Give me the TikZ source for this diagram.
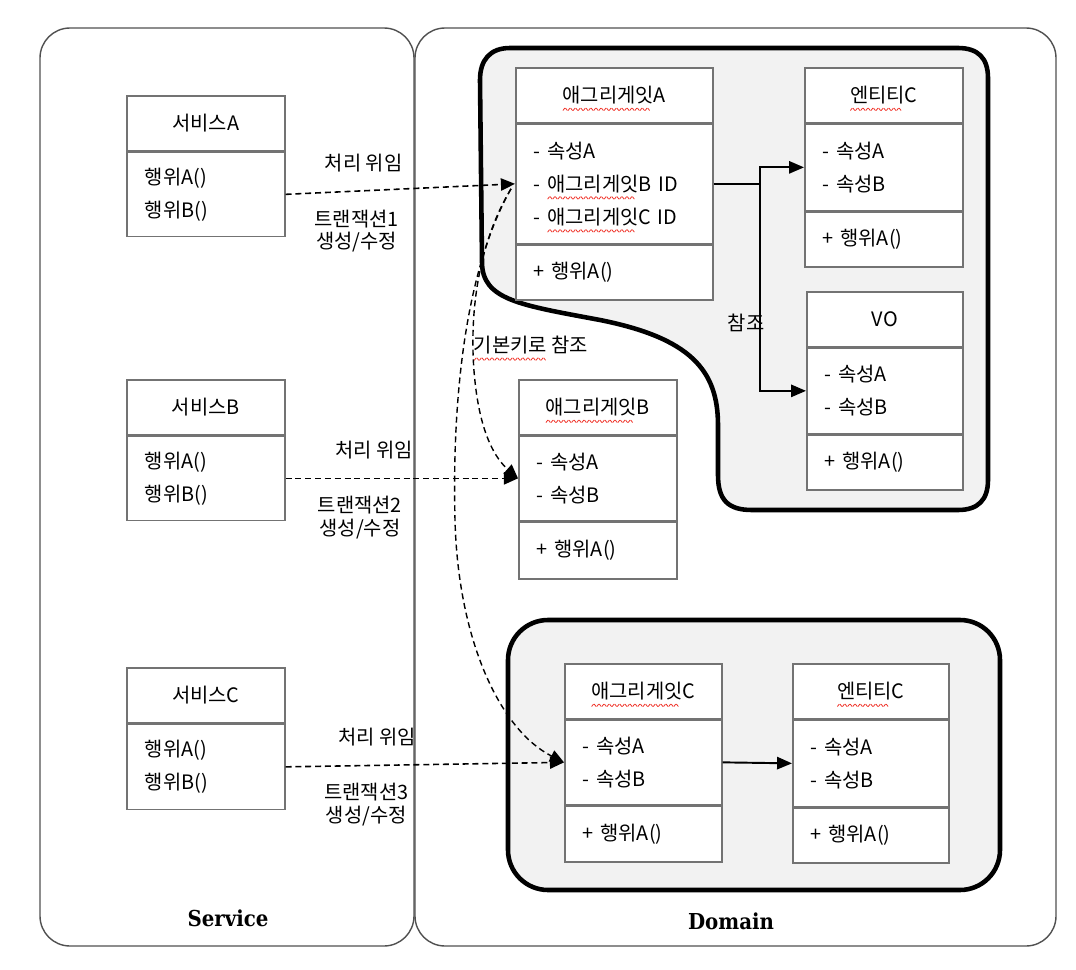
\documentclass[tikz,border=0pt]{standalone}
\usepackage{fontspec}
\usepackage{xcolor}
\usepackage{graphicx}
\usepackage{tikz}
\usetikzlibrary{arrows.meta,calc}
\setmainfont{Noto Sans CJK KR}
\newfontfamily\layerfont{DejaVu Serif Condensed}
\definecolor{boxgray}{RGB}{115,115,115}
\definecolor{panelgray}{RGB}{80,80,80}
\definecolor{groupfill}{RGB}{242,242,242}
\definecolor{spellred}{RGB}{240,50,40}
% red spell-check wave under a word
\newsavebox\zigbox
\sbox\zigbox{{\color{spellred}\rotatebox{52}{\rule{1.8pt}{0.45pt}}\raisebox{1.42pt}{\rotatebox{-52}{\rule{1.8pt}{0.45pt}}}}}
\newcommand\spell[1]{\setbox0\hbox{#1}\rlap{\raisebox{-4.6pt}[0pt][0pt]{\hbox to\wd0{\leaders\copy\zigbox\hfill}}}\box0\relax}
\tikzset{
    every node/.style = {font=\fontsize{11.3pt}{18.8pt}\selectfont},
    panel/.style = {draw=panelgray, line width=0.8pt, rounded corners=0.6cm},
    group/.style = {draw=black, fill=groupfill, line width=2.6pt},
    cls-head/.style = {draw=boxgray, fill=white, line width=0.9pt, inner sep=0pt, minimum width=#1, minimum height=1.1cm, anchor=north west},
    cls-body/.style = {draw=boxgray, fill=white, line width=0.9pt, inner xsep=0.36cm, inner ysep=0pt, text width=#1, align=left, anchor=north west},
    delegate/.style = {dashed, dash pattern=on 3.4pt off 2.2pt, line width=0.9pt, -{Triangle[length=8pt,width=7pt]}},
    pk-ref/.style = {dashed, dash pattern=on 3.4pt off 2.2pt, line width=0.8pt, -{Triangle[length=8pt,width=7pt]}},
    ref-line/.style = {line width=1.1pt, -{Triangle[length=8.5pt,width=7pt]}},
    tx-label/.style = {align=center, font=\fontsize{11.3pt}{13pt}\selectfont},
    layer-title/.style = {font=\layerfont\bfseries\fontsize{12.5pt}{14pt}\selectfont},
}
\begin{document}
\begin{tikzpicture}[x=0.02cm, y=-0.02cm]
\useasboundingbox (0,0) rectangle (1076,970);

% layers
\draw[panel] (40,28) rectangle (414,946);
\draw[panel] (415,28) rectangle (1056,946);
\node[layer-title] (service-title) at (228,918) {Service};
\node[layer-title] (domain-title) at (731,921) {Domain};

% aggregate boundaries
\draw[group] (480,80) .. controls (480,60) and (490,48) .. (510,48) -- (958,48)
    .. controls (978,48) and (988,58) .. (988,78) -- (988,480)
    .. controls (988,500) and (978,510) .. (958,510) -- (752,510)
    .. controls (728,510) and (718,500) .. (718,475) -- (718,425)
    .. controls (718,370) and (690,338) .. (600,320)
    .. controls (520,305) and (482,300) .. (482,262) -- cycle;
\draw[group, rounded corners=0.8cm] (508,620) rectangle (1000,890);

% services
\node[cls-head=3.16cm] (svcA) at (126,95) {서비스A};
\node[cls-body=2.44cm, minimum height=1.68cm] (svcA-body) at (svcA.south west) {행위A()\\행위B()};
\node[cls-head=3.16cm] (svcB) at (126,379) {서비스B};
\node[cls-body=2.44cm, minimum height=1.68cm] (svcB-body) at (svcB.south west) {행위A()\\행위B()};
\node[cls-head=3.16cm] (svcC) at (126,667) {서비스C};
\node[cls-body=2.44cm, minimum height=1.7cm] (svcC-body) at (svcC.south west) {행위A()\\행위B()};

% aggregate A
\node[cls-head=3.94cm] (aggA) at (515,67) {\spell{애그리게잇}A};
\node[cls-body=3.22cm, minimum height=2.38cm] (aggA-attr) at (aggA.south west) {- 속성A\\- \spell{애그리게잇}B ID\\- \spell{애그리게잇}C ID};
\node[cls-body=3.22cm, minimum height=1.1cm] (aggA-op) at (aggA-attr.south west) {+ 행위A()};

\node[cls-head=3.16cm] (entA) at (804,67) {\spell{엔티티}C};
\node[cls-body=2.44cm, minimum height=1.72cm] (entA-attr) at (entA.south west) {- 속성A\\- 속성B};
\node[cls-body=2.44cm, minimum height=1.1cm] (entA-op) at (entA-attr.south west) {+ 행위A()};

\node[cls-head=3.12cm] (vo) at (806,291) {VO};
\node[cls-body=2.40cm, minimum height=1.7cm] (vo-attr) at (vo.south west) {- 속성A\\- 속성B};
\node[cls-body=2.40cm, minimum height=1.1cm] (vo-op) at (vo-attr.south west) {+ 행위A()};

% aggregate B
\node[cls-head=3.16cm] (aggB) at (518,379) {\spell{애그리게잇}B};
\node[cls-body=2.44cm, minimum height=1.68cm] (aggB-attr) at (aggB.south west) {- 속성A\\- 속성B};
\node[cls-body=2.44cm, minimum height=1.14cm] (aggB-op) at (aggB-attr.south west) {+ 행위A()};

% aggregate C
\node[cls-head=3.14cm] (aggC) at (564,663) {\spell{애그리게잇}C};
\node[cls-body=2.42cm, minimum height=1.68cm] (aggC-attr) at (aggC.south west) {- 속성A\\- 속성B};
\node[cls-body=2.42cm, minimum height=1.12cm] (aggC-op) at (aggC-attr.south west) {+ 행위A()};

\node[cls-head=3.12cm] (entC) at (792,663) {\spell{엔티티}C};
\node[cls-body=2.40cm, minimum height=1.72cm] (entC-attr) at (entC.south west) {- 속성A\\- 속성B};
\node[cls-body=2.40cm, minimum height=1.1cm] (entC-op) at (entC-attr.south west) {+ 행위A()};

% references inside aggregates
\coordinate (ref-joint) at ($(aggA-attr.east)+(46,0)$);
\draw[line width=1.1pt] (aggA-attr.east) -- (ref-joint);
\draw[ref-line] (ref-joint) |- (entA-attr.west);
\draw[ref-line] (ref-joint) |- (vo-attr.west);
\node (ref-label) at (746,323) {참조};
\draw[ref-line] (aggC-attr.east) -- (entC-attr.west);

% delegation from services
\draw[delegate] (svcA-body.east) -- (aggA-attr.west)
    node[pos=0.34, yshift=0.56cm] (delegA) {처리 위임}
    node[pos=0.31, yshift=-0.8cm, tx-label] (txA) {트랜잭션1\\생성/수정};
\draw[delegate] (svcB-body.east) -- (aggB-attr.west)
    node[pos=0.38, yshift=0.56cm] (delegB) {처리 위임}
    node[pos=0.32, yshift=-0.78cm, tx-label] (txB) {트랜잭션2\\생성/수정};
\draw[delegate] (svcC-body.east) -- (aggC-attr.west)
    node[pos=0.33, yshift=0.56cm] (delegC) {처리 위임}
    node[pos=0.29, yshift=-0.78cm, tx-label] (txC) {트랜잭션3\\생성/수정};

% primary key references
\coordinate (pk-start) at ($(aggA-attr.west)+(-4,5)$);
\draw[pk-ref] (pk-start) .. controls (474,250) and (468,330) .. (476,390)
    .. controls (482,435) and (495,458) .. (aggB-attr.west);
\draw[pk-ref] (pk-start) .. controls (465,270) and (452,400) .. (455,520)
    .. controls (458,640) and (500,730) .. (aggC-attr.west);
\node (pk-label) at (531,345) {\spell{기본키로} 참조};
\end{tikzpicture}
\end{document}
